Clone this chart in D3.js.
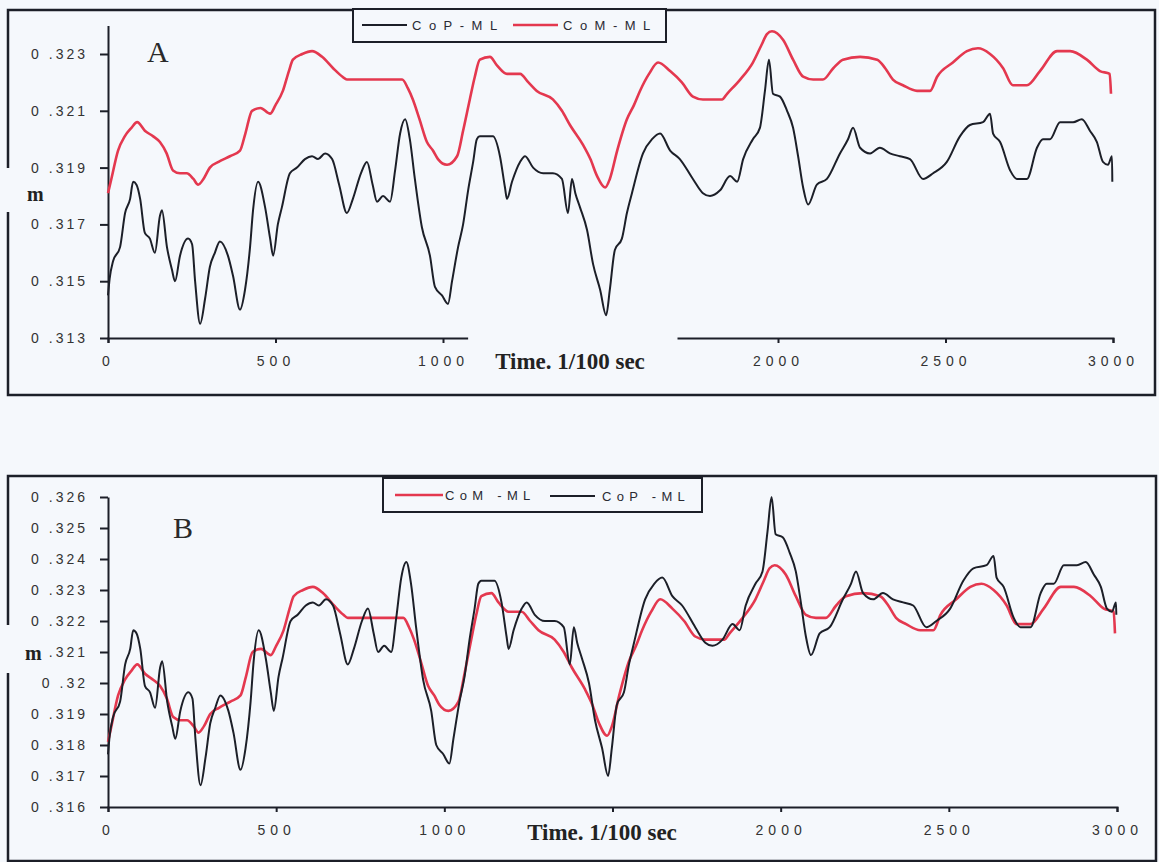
<!DOCTYPE html>
<html>
<head>
<meta charset="utf-8">
<script src="https://cdn.jsdelivr.net/npm/d3@7"></script>
<style>
  body { margin: 0; background: #f5f8fc; }
  svg { display: block; }
</style>
</head>
<body>
<svg id="chart" width="1159" height="862"></svg>
<script>
// CoM-ML (same trace in both panels), time in 1/100 sec, value in m
const comTime = [
  0, 10, 30, 50, 70, 87, 110, 135, 155, 175,
  194, 215, 235, 255, 269, 285, 304, 330, 364, 394,
  410, 430, 455, 484, 500, 522, 540, 552, 580, 609,
  639, 672, 700, 713, 760, 820, 878, 895, 910, 930,
  952, 970, 985, 1012, 1042, 1060, 1080, 1095, 1110, 1140,
  1161, 1191, 1230, 1255, 1280, 1328, 1355, 1379, 1418, 1440,
  1460, 1484, 1498, 1520, 1549, 1570, 1588, 1615, 1642, 1678,
  1713, 1746, 1776, 1833, 1848, 1887, 1925, 1950, 1967, 1982,
  2015, 2045, 2075, 2105, 2134, 2165, 2194, 2245, 2296, 2320,
  2343, 2373, 2415, 2454, 2475, 2522, 2564, 2597, 2633, 2672,
  2701, 2743, 2782, 2833, 2872, 2922, 2961, 2990, 2994
];
const comValue = [
  .3181, .3186, .3196, .3201, .3204, .3206, .3203, .3201, .3199, .3195,
  .3189, .3188, .3188, .3186, .3184, .3186, .3190, .3192, .3194, .3196,
  .3202, .3210, .3211, .3209, .3212, .3217, .3224, .3228, .3230, .3231,
  .3229, .3225, .3222, .3221, .3221, .3221, .3221, .3218, .3214, .3207,
  .3199, .3196, .3193, .3191, .3194, .3203, .3214, .3222, .3228, .3229,
  .3226, .3223, .3223, .3220, .3217, .3214, .3210, .3205, .3198, .3193,
  .3187, .3183, .3186, .3196, .3207, .3212, .3217, .3223, .3227, .3224,
  .3220, .3215, .3214, .3214, .3216, .3221, .3227, .3233, .3237, .3238,
  .3235, .3228, .3222, .3221, .3221, .3225, .3228, .3229, .3228, .3225,
  .3221, .3219, .3217, .3217, .3222, .3227, .3231, .3232, .3230, .3225,
  .3219, .3219, .3224, .3231, .3231, .3228, .3224, .3223, .3216
];

// CoP-ML
const copTime = [
  0, 5, 15, 36, 51, 66, 75, 85, 96, 110,
  125, 140, 155, 161, 176, 191, 200, 215, 239, 251,
  260, 275, 290, 304, 319, 334, 358, 373, 394, 409,
  424, 433, 448, 469, 484, 493, 507, 519, 543, 564,
  588, 609, 627, 648, 669, 690, 713, 731, 755, 773,
  790, 803, 821, 842, 857, 872, 887, 901, 916, 937,
  961, 976, 997, 1015, 1027, 1045, 1060, 1075, 1090, 1101,
  1110, 1149, 1170, 1185, 1191, 1206, 1230, 1245, 1269, 1299,
  1328, 1355, 1373, 1385, 1395, 1409, 1430, 1448, 1469, 1487,
  1498, 1513, 1534, 1549, 1564, 1597, 1624, 1648, 1678, 1707,
  1746, 1776, 1797, 1827, 1857, 1878, 1896, 1925, 1946, 1961,
  1973, 1985, 2006, 2027, 2045, 2060, 2075, 2090, 2116, 2146,
  2185, 2209, 2224, 2245, 2275, 2304, 2334, 2364, 2394, 2433,
  2463, 2504, 2543, 2573, 2612, 2633, 2642, 2663, 2693, 2713,
  2743, 2773, 2791, 2812, 2842, 2881, 2907, 2931, 2952, 2970,
  2985, 2997, 2998
];
// panel A
const copValueA = [
  .3145, .3151, .3157, .3162, .3174, .3179, .3185, .3184, .3179, .3167,
  .3165, .3160, .3173, .3175, .3162, .3154, .3150, .3159, .3165, .3163,
  .3150, .3135, .3144, .3155, .3160, .3164, .3159, .3152, .3140, .3147,
  .3162, .3175, .3185, .3176, .3165, .3159, .3170, .3176, .3188, .3190,
  .3193, .3194, .3193, .3195, .3193, .3184, .3174, .3179, .3188, .3192,
  .3184, .3178, .3180, .3178, .3189, .3202, .3207, .3200, .3186, .3169,
  .3159, .3148, .3145, .3142, .3150, .3162, .3170, .3182, .3192, .3200,
  .3201, .3201, .3194, .3183, .3179, .3185, .3192, .3194, .3190, .3188,
  .3188, .3186, .3174, .3186, .3181, .3176, .3168, .3156, .3147, .3138,
  .3147, .3161, .3165, .3174, .3181, .3195, .3200, .3202, .3196, .3193,
  .3186, .3181, .3180, .3182, .3187, .3185, .3193, .3200, .3204, .3217,
  .3228, .3216, .3215, .3210, .3204, .3194, .3183, .3177, .3184, .3186,
  .3195, .3200, .3204, .3197, .3195, .3197, .3195, .3194, .3193, .3186,
  .3188, .3192, .3201, .3205, .3206, .3209, .3202, .3199, .3189, .3186,
  .3186, .3197, .3200, .3200, .3206, .3206, .3207, .3203, .3199, .3192,
  .3191, .3194, .3185
];
// panel B
const copValueB = [
  .3177, .3183, .3189, .3194, .3206, .3211, .3217, .3216, .3211, .3199,
  .3197, .3192, .3205, .3207, .3194, .3186, .3182, .3191, .3197, .3195,
  .3182, .3167, .3176, .3187, .3192, .3196, .3191, .3184, .3172, .3179,
  .3194, .3207, .3217, .3208, .3197, .3191, .3202, .3208, .3220, .3222,
  .3225, .3226, .3225, .3227, .3225, .3216, .3206, .3211, .3220, .3224,
  .3216, .3210, .3212, .3210, .3221, .3234, .3239, .3232, .3218, .3201,
  .3191, .3180, .3177, .3174, .3182, .3194, .3202, .3214, .3224, .3232,
  .3233, .3233, .3226, .3215, .3211, .3217, .3224, .3226, .3222, .3220,
  .3220, .3218, .3206, .3218, .3213, .3208, .3200, .3188, .3179, .3170,
  .3179, .3193, .3197, .3206, .3213, .3227, .3232, .3234, .3228, .3225,
  .3218, .3213, .3212, .3214, .3219, .3217, .3225, .3232, .3236, .3249,
  .3260, .3248, .3247, .3242, .3236, .3226, .3215, .3209, .3216, .3218,
  .3227, .3232, .3236, .3229, .3227, .3229, .3227, .3226, .3225, .3218,
  .3220, .3224, .3233, .3237, .3238, .3241, .3234, .3231, .3221, .3218,
  .3218, .3229, .3232, .3232, .3238, .3238, .3239, .3235, .3231, .3224,
  .3223, .3226, .3222
];

const xTicks = [0, 500, 1000, 1500, 2000, 2500, 3000];
const xTickLabels = ["0", "500", "1000", "", "2000", "2500", "3000"];
const yTicksA = [0.313, 0.315, 0.317, 0.319, 0.321, 0.323];
const yTickLabelsA = ["0 .313", "0 .315", "0 .317", "0 .319", "0 .321", "0 .323"];
const yTicksB = [0.316, 0.317, 0.318, 0.319, 0.320, 0.321, 0.322, 0.323, 0.324, 0.325, 0.326];
const yTickLabelsB = ["0 .316", "0 .317", "0 .318", "0 .319", "0 .32", ".321", "0 .322", "0 .323", "0 .324", "0 .325", "0 .326"];

const bg = "#f5f8fc";
const ink = "#1c1f28";
const red = "#e4384f";
const sans = '"Liberation Sans", Arial, sans-serif';
const serif = '"Liberation Serif", "Times New Roman", serif';

const svg = d3.select("#chart");
svg.append("rect").attr("width", 1159).attr("height", 862).attr("fill", bg);

const panels = [
  {
    letter: "A", letterPos: [147, 62], mPos: [27, 201],
    frame: {x: 8, y: 10, w: 1147, h: 385, gap: [168, 212]},
    xRange: [108, 1113], yDomain: [0.313, 0.324], yRange: [338, 25.6],
    yTicks: yTicksA, yLabels: yTickLabelsA,
    title: [570, 369], axisGap: [1075, 1700],
    legendBox: [353, 9, 313, 33], legendSpacing: 7.5,
    legend: [
      {name: "CoP-ML", color: ink, width: 2, x1: 362, x2: 407, y: 25, tx: 412},
      {name: "CoM-ML", color: red, width: 2.6, x1: 513, x2: 558, y: 25, tx: 563}
    ],
    series: [
      {time: copTime, value: copValueA, color: ink, width: 2},
      {time: comTime, value: comValue, color: red, width: 2.6}
    ]
  },
  {
    letter: "B", letterPos: [173, 538], mPos: [25, 660],
    frame: {x: 8, y: 476, w: 1148, h: 385, gap: [625, 673]},
    xRange: [108, 1117], yDomain: [0.316, 0.326], yRange: [807, 497],
    yTicks: yTicksB, yLabels: yTickLabelsB,
    title: [602, 840], axisGap: null,
    legendBox: [383, 478, 319, 34], legendSpacing: 5.3,
    legend: [
      {name: "CoM -ML", color: red, width: 2.6, x1: 395, x2: 443, y: 495, tx: 445},
      {name: "CoP -ML", color: ink, width: 2, x1: 550, x2: 595, y: 496, tx: 602}
    ],
    series: [
      {time: comTime, value: comValue, color: red, width: 2.6},
      {time: copTime, value: copValueB, color: ink, width: 2}
    ]
  }
];

panels.forEach(p => {
  const g = svg.append("g");
  const f = p.frame;

  // outer frame, broken on the left around the "m"
  g.append("path")
    .attr("d", `M${f.x},${f.gap[0]}L${f.x},${f.y}L${f.x + f.w},${f.y}L${f.x + f.w},${f.y + f.h}L${f.x},${f.y + f.h}L${f.x},${f.gap[1]}`)
    .attr("fill", "none").attr("stroke", ink).attr("stroke-width", 2.5);

  const x = d3.scaleLinear().domain([0, 3000]).range(p.xRange);
  const y = d3.scaleLinear().domain(p.yDomain).range(p.yRange);

  const xAxis = g.append("g")
    .attr("transform", `translate(0,${p.yRange[0]})`)
    .call(d3.axisBottom(x).tickValues(xTicks).tickFormat((d, i) => xTickLabels[i])
      .tickSize(5).tickSizeOuter(5).tickPadding(13));
  xAxis.selectAll("text")
    .style("font-family", sans).style("font-size", "14px")
    .style("letter-spacing", "5px").attr("fill", "#333");

  const yAxis = g.append("g")
    .attr("transform", `translate(${p.xRange[0]},0)`)
    .call(d3.axisLeft(y).tickValues(p.yTicks).tickFormat((d, i) => p.yLabels[i])
      .tickSize(8).tickSizeOuter(0).tickPadding(12));
  yAxis.selectAll("text")
    .style("font-family", sans).style("font-size", "14px")
    .style("letter-spacing", "3px").attr("fill", "#333");

  g.selectAll(".domain, .tick line").attr("stroke", ink).attr("stroke-width", 2);

  if (p.axisGap) {
    g.append("rect")
      .attr("x", x(p.axisGap[0])).attr("width", x(p.axisGap[1]) - x(p.axisGap[0]))
      .attr("y", p.yRange[0] - 3).attr("height", 10)
      .attr("fill", bg);
  }

  p.series.forEach(s => {
    const pts = s.time.map((t, i) => [t, s.value[i]]);
    g.append("path")
      .datum(pts)
      .attr("fill", "none")
      .attr("stroke", s.color)
      .attr("stroke-width", s.width)
      .attr("stroke-linejoin", "round")
      .attr("d", d3.line().x(d => x(d[0])).y(d => y(d[1])).curve(d3.curveMonotoneX));
  });

  // legend
  const lb = p.legendBox;
  g.append("rect")
    .attr("x", lb[0]).attr("y", lb[1]).attr("width", lb[2]).attr("height", lb[3])
    .attr("fill", bg).attr("stroke", ink).attr("stroke-width", 2);
  p.legend.forEach(it => {
    g.append("line")
      .attr("x1", it.x1).attr("x2", it.x2).attr("y1", it.y).attr("y2", it.y)
      .attr("stroke", it.color).attr("stroke-width", it.width);
    g.append("text")
      .attr("x", it.tx).attr("y", it.y + 5)
      .style("font-family", sans).style("font-size", "13px")
      .style("letter-spacing", p.legendSpacing + "px")
      .attr("fill", "#2a2a33")
      .text(it.name);
  });

  g.append("text")
    .attr("x", p.letterPos[0]).attr("y", p.letterPos[1])
    .style("font-family", serif).style("font-size", "30px")
    .attr("fill", "#2a2a2a")
    .text(p.letter);

  g.append("text")
    .attr("x", p.mPos[0]).attr("y", p.mPos[1])
    .style("font-family", serif).style("font-size", "20px").style("font-weight", "bold")
    .attr("fill", "#222")
    .text("m");

  g.append("text")
    .attr("x", p.title[0]).attr("y", p.title[1])
    .attr("text-anchor", "middle")
    .style("font-family", serif).style("font-size", "23px").style("font-weight", "bold")
    .attr("fill", "#222")
    .text("Time. 1/100 sec");
});
</script>
</body>
</html>
